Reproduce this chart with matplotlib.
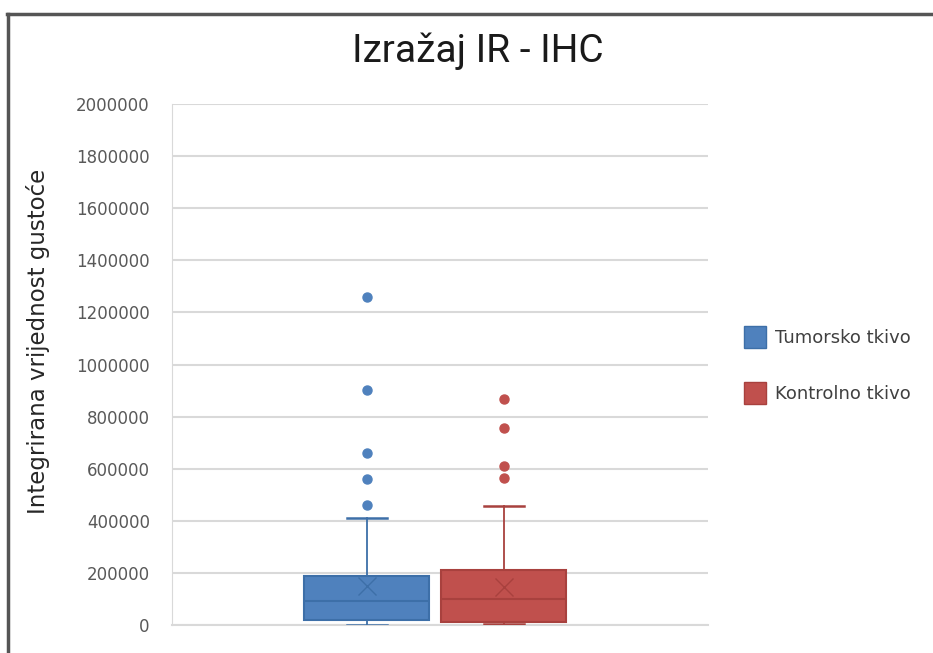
import matplotlib
matplotlib.use('Agg')
import matplotlib.pyplot as plt
from matplotlib.lines import Line2D
from matplotlib.patches import Patch

# Podaci očitani s grafa
groups = ['Tumorsko tkivo', 'Kontrolno tkivo']
q1 = [18000, 10000]
medians = [93000, 100000]
q3 = [189000, 211000]
whisker_low = [0, 2000]
whisker_high = [409000, 456000]
means = [150000, 146000]
fliers = [
    [1259000, 904000, 662000, 562000, 461000],
    [866000, 756000, 610000, 566000],
]
yticks = [0, 200000, 400000, 600000, 800000, 1000000, 1200000, 1400000,
          1600000, 1800000, 2000000]

face_colors = ['#4f81bd', '#c0504d']
edge_colors = ['#3d6fa8', '#a8413e']

fig = plt.figure(figsize=(9.33, 6.53), dpi=100)
ax = fig.add_axes([0.1844, 0.0429, 0.5744, 0.7978])

for i in range(len(groups)):
    stats = [dict(med=medians[i], q1=q1[i], q3=q3[i],
                  whislo=whisker_low[i], whishi=whisker_high[i],
                  mean=means[i], fliers=fliers[i], label=groups[i])]
    ax.bxp(stats, positions=[i + 1], widths=0.91, capwidths=0.29,
           patch_artist=True, showmeans=True, zorder=3,
           boxprops=dict(facecolor=face_colors[i], edgecolor=edge_colors[i], linewidth=1.5),
           medianprops=dict(color=edge_colors[i], linewidth=1.5),
           whiskerprops=dict(color=edge_colors[i], linewidth=1.3),
           capprops=dict(color=edge_colors[i], linewidth=1.8),
           flierprops=dict(marker='o', markerfacecolor=face_colors[i],
                           markeredgecolor=face_colors[i], markersize=6.5),
           meanprops=dict(marker='x', markeredgecolor=edge_colors[i],
                          markersize=13, markeredgewidth=1.0))

ax.set_xlim(-0.42, 3.49)
ax.set_ylim(0, 2000000)
ax.set_yticks(yticks)
ax.set_yticklabels([str(v) for v in yticks])
ax.set_xticks([])
ax.yaxis.grid(True, color='#d9d9d9', linewidth=1.5, zorder=0)
ax.set_axisbelow(True)
ax.tick_params(axis='y', length=0, pad=16, labelsize=12, labelcolor='#595959')
for side in ['top', 'right']:
    ax.spines[side].set_visible(False)
ax.spines['left'].set_color('#d9d9d9')
ax.spines['bottom'].set_color('#d9d9d9')
ax.spines['bottom'].set_linewidth(1.5)

ax.set_ylabel('Integrirana vrijednost gustoće', fontsize=16.5, color='#262626')
ax.yaxis.set_label_coords(-0.228, 0.544)

fig.text(0.512, 0.921, 'Izražaj IR - IHC', ha='center', va='center', fontsize=28,
         family=['Roboto', 'DejaVu Sans'], color='#1a1a1a')

handles = [Patch(facecolor=face_colors[i], edgecolor=edge_colors[i]) for i in range(len(groups))]
fig.legend(handles, groups, loc='center left', bbox_to_anchor=(0.78, 0.441),
           frameon=False, fontsize=13, labelcolor='#404040', handlelength=1.2,
           handleheight=1.5, labelspacing=1.9, handletextpad=0.5)

# okvir slike
fig.add_artist(Line2D([0.008, 1.0], [0.979, 0.979], color='#555555', linewidth=2.5,
                      transform=fig.transFigure))
fig.add_artist(Line2D([0.009, 0.009], [0.0, 0.979], color='#555555', linewidth=2.5,
                      transform=fig.transFigure))

fig.savefig('out.png', dpi=100)
